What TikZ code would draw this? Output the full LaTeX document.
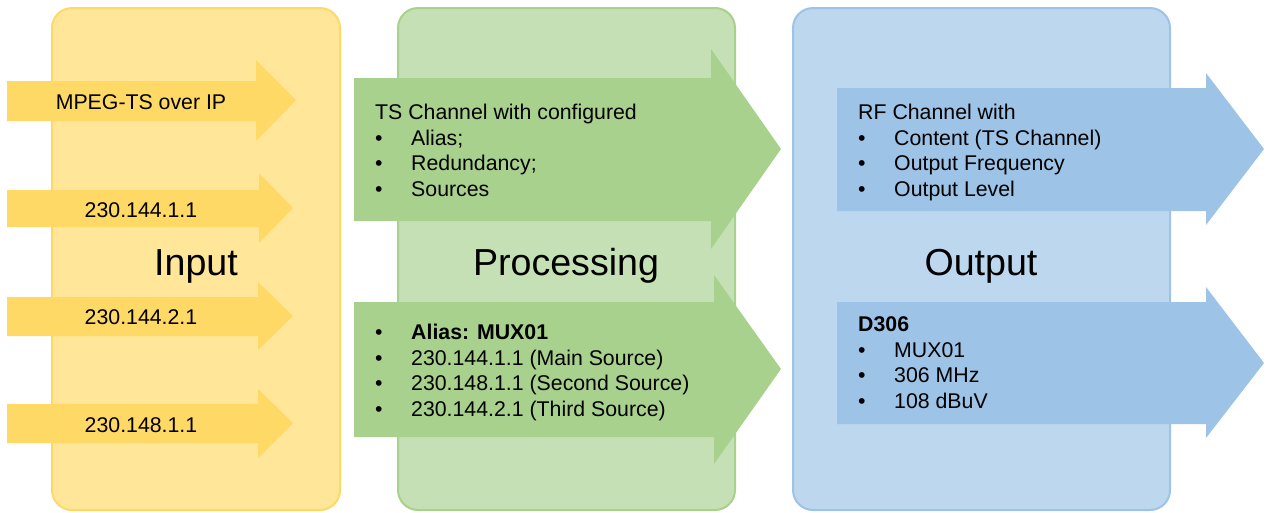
\documentclass[tikz,border=0pt]{standalone}
\usepackage{fontspec}
\setmainfont{Liberation Sans}
\usetikzlibrary{positioning}

\definecolor{inFill}{HTML}{FFE699}
\definecolor{inLine}{HTML}{FFD966}
\definecolor{procFill}{HTML}{C5E0B4}
\definecolor{procLine}{HTML}{A9D18E}
\definecolor{outFill}{HTML}{BDD7EE}
\definecolor{outLine}{HTML}{9DC3E6}

\newcommand{\itm}{\makebox[36pt][l]{\textbullet}}

\begin{document}
\begin{tikzpicture}[
    x=1pt, y=-1pt,
    panel/.style={rounded corners=20pt, line width=2pt},
    small/.style={inner sep=0pt, font=\fontsize{21.3}{25.4}\selectfont},
    list/.style={small, align=left, anchor=base west},
    big/.style={inner sep=0pt, anchor=base, font=\fontsize{37.6}{44}\selectfont}
  ]
    \useasboundingbox (0,0) rectangle (1268,512);

    % stage panels
    \draw[panel, draw=inLine, fill=inFill] (52,8) rectangle (340,510);
    \draw[panel, draw=procLine, fill=procFill] (398,8) rectangle (735,510);
    \draw[panel, draw=outLine, fill=outFill] (793,8) rectangle (1170,510);

    \node[big] (input) at (196,275) {Input};
    \node[big] (proc) at (566,275) {Processing};
    \node[big] (output) at (981,275) {Output};

    % input streams
    \fill[inLine] (7,81) -- (256,81) -- (256,60) -- (296,100) -- (256,141) -- (256,121) -- (7,121) -- cycle;
    \fill[inLine] (7,190) -- (259,190) -- (259,173) -- (293,208) -- (259,243) -- (259,227) -- (7,227) -- cycle;
    \fill[inLine] (7,297) -- (258,297) -- (258,282) -- (293,316) -- (258,350) -- (258,336) -- (7,336) -- cycle;
    \fill[inLine] (7,404) -- (258,404) -- (258,389) -- (293,423) -- (258,458) -- (258,443) -- (7,443) -- cycle;
    \node[small, anchor=base] (mpeg) at (141,109) {MPEG-TS over IP};
    \node[small, anchor=base] (src1) at (141,217) {230.144.1.1};
    \node[small, anchor=base] (src3) at (141,324) {230.144.2.1};
    \node[small, anchor=base] (src2) at (141,432) {230.148.1.1};

    % TS channel (anchored at the last line)
    \fill[procLine] (354,78) -- (711,78) -- (711,49) -- (781,149) -- (711,249) -- (711,221) -- (354,221) -- cycle;
    \fill[procLine] (354,302) -- (714,302) -- (714,275) -- (781,369) -- (714,464) -- (714,437) -- (354,437) -- cycle;
    \node[list] (tsinfo) at (375,196) {TS Channel with configured\\
      \itm Alias;\\ \itm Redundancy;\\ \itm Sources};
    \node[list] (mux) at (375,416) {\itm\textbf{Alias: MUX01}\\
      \itm 230.144.1.1 (Main Source)\\ \itm 230.148.1.1 (Second Source)\\
      \itm 230.144.2.1 (Third Source)};

    % RF channel
    \fill[outLine] (837,88) -- (1206,88) -- (1206,73) -- (1264,149) -- (1206,225) -- (1206,211) -- (837,211) -- cycle;
    \fill[outLine] (837,302) -- (1206,302) -- (1206,287) -- (1264,363) -- (1206,438) -- (1206,424) -- (837,424) -- cycle;
    \node[list] (rfinfo) at (858,196) {RF Channel with\\
      \itm Content (TS Channel)\\ \itm Output Frequency\\ \itm Output Level};
    \node[list] (d306) at (858,408) {\textbf{D306}\\
      \itm MUX01\\ \itm 306 MHz\\ \itm 108 dBuV};
  \end{tikzpicture}
\end{document}
